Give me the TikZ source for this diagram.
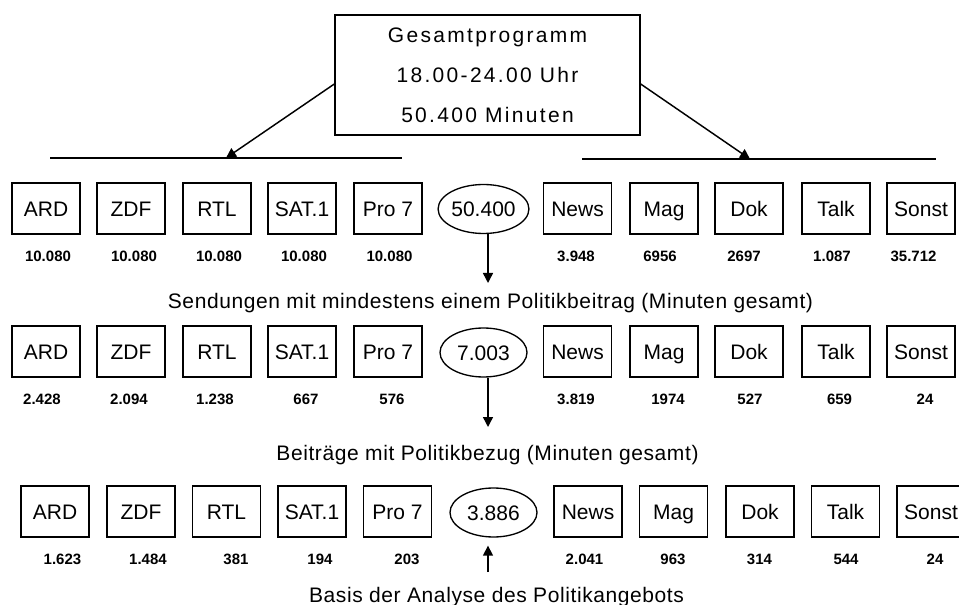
\documentclass[tikz,border=0pt]{standalone}
\usepackage{fontspec}
\setmainfont{Liberation Sans}
\usetikzlibrary{shapes.geometric,arrows.meta}
\begin{document}
\begin{tikzpicture}[x=0.75pt,y=-0.75pt,
  box/.style={draw,line width=1pt,minimum width=51pt,minimum height=38.25pt,inner sep=0pt,
    text height=11.3pt,text depth=0pt,font=\fontsize{15.75}{18}\selectfont},
  oval/.style={ellipse,draw,line width=1pt,minimum width=65.25pt,minimum height=36.75pt,inner sep=0pt,
    text height=11.3pt,text depth=0pt,font=\fontsize{15.75}{18}\selectfont},
  num/.style={inner sep=0pt,font=\fontsize{11.25}{13}\selectfont\bfseries},
  capt/.style={inner sep=0pt,anchor=base,font=\fontsize{15.75}{18}\selectfont\addfontfeatures{LetterSpace=2.8}},
  arr/.style={line width=1.1pt,-{Triangle[length=7.5pt,width=7.5pt]}},
  ln/.style={line width=1.1pt}]
\useasboundingbox (0,0) rectangle (959,605);
\clip (0,0) rectangle (959,605);
% top box
\node[draw,line width=1pt,minimum width=228.75pt,minimum height=90pt,inner sep=0pt,align=center,
  font=\fontsize{15.75}{30}\selectfont\addfontfeatures{LetterSpace=11}] (top) at (487.5,75)
  {Gesamtprogramm\\18.00-24.00 Uhr\\50.400 Minuten};
\coordinate (l1) at (50,158);
\coordinate (l2) at (402,158);
\coordinate (r1) at (582,159);
\coordinate (r2) at (936,159);
\coordinate (lt) at (226,158);
\coordinate (rt) at (750,159);
\draw[ln] (l1) -- (l2);
\draw[ln] (r1) -- (r2);
\draw[arr] ([yshift=-6.75pt]top.west) -- (lt);
\draw[arr] ([yshift=-6.75pt]top.east) -- (rt);
% row 1
\node[box] (a1) at (46,208.5) {ARD};
\node[box] (b1) at (131,208.5) {ZDF};
\node[box] (c1) at (217,208.5) {RTL};
\node[box] (d1) at (302,208.5) {SAT.1};
\node[box] (f1) at (388,208.5) {Pro 7};
\node[oval] (e1) at (483.5,209) {50.400};
\node[box] (g1) at (577.5,208.5) {News};
\node[box] (h1) at (664,208.5) {Mag};
\node[box] (i1) at (749,208.5) {Dok};
\node[box] (j1) at (836,208.5) {Talk};
\node[box] (k1) at (921,208.5) {Sonst};
\node[num] at (48,256) {10.080};
\node[num] at (134,256) {10.080};
\node[num] at (219,256) {10.080};
\node[num] at (304,256) {10.080};
\node[num] at (389.5,256) {10.080};
\node[num] at (576,256) {3.948};
\node[num] at (660,256) {6956};
\node[num] at (744,256) {2697};
\node[num] at (832,256) {1.087};
\node[num] at (913.5,256) {35.712};
\coordinate (d1end) at (488,283);
\draw[arr] (e1.south -| d1end) -- (d1end);
\node[capt] (s1) at (490.5,309) {Sendungen mit mindestens einem Politikbeitrag (Minuten gesamt)};
% row 2
\node[box] (a2) at (46,351.5) {ARD};
\node[box] (b2) at (131,351.5) {ZDF};
\node[box] (c2) at (217,351.5) {RTL};
\node[box] (d2) at (302,351.5) {SAT.1};
\node[box] (f2) at (388,351.5) {Pro 7};
\node[oval] (e2) at (483.5,352.5) {7.003};
\node[box] (g2) at (577.5,351.5) {News};
\node[box] (h2) at (664,351.5) {Mag};
\node[box] (i2) at (749,351.5) {Dok};
\node[box] (j2) at (836,351.5) {Talk};
\node[box] (k2) at (921,351.5) {Sonst};
\node[num] at (42,399) {2.428};
\node[num] at (129,399) {2.094};
\node[num] at (215,399) {1.238};
\node[num] at (306,399) {667};
\node[num] at (392,399) {576};
\node[num] at (576,399) {3.819};
\node[num] at (668,399) {1974};
\node[num] at (750,399) {527};
\node[num] at (839.5,399) {659};
\node[num] at (925,399) {24};
\coordinate (d2end) at (488,427);
\draw[arr] (e2.south -| d2end) -- (d2end);
\node[capt] (s2) at (487.5,460) {Beiträge mit Politikbezug (Minuten gesamt)};
% row 3
\node[box] (a3) at (55,511.5) {ARD};
\node[box] (b3) at (141,511.5) {ZDF};
\node[box] (c3) at (226.5,511.5) {RTL};
\node[box] (d3) at (312,511.5) {SAT.1};
\node[box] (f3) at (397.5,511.5) {Pro 7};
\node[oval] (e3) at (493.5,512.5) {3.886};
\node[box] (g3) at (588,511.5) {News};
\node[box] (h3) at (673.5,511.5) {Mag};
\node[box] (i3) at (760,511.5) {Dok};
\node[box] (j3) at (845.5,511.5) {Talk};
\node[box] (k3) at (931,511.5) {Sonst};
\node[num] at (62.5,559) {1.623};
\node[num] at (148,559) {1.484};
\node[num] at (236,559) {381};
\node[num] at (320,559) {194};
\node[num] at (407,559) {203};
\node[num] at (584.5,559) {2.041};
\node[num] at (673,559) {963};
\node[num] at (759.5,559) {314};
\node[num] at (846,559) {544};
\node[num] at (935,559) {24};
\coordinate (u3) at (488,572);
\draw[arr] (u3) -- ([yshift=-6pt]e3.south -| u3);
\node[capt] (s3) at (496.5,602) {Basis der Analyse des Politikangebots};
\end{tikzpicture}
\end{document}
